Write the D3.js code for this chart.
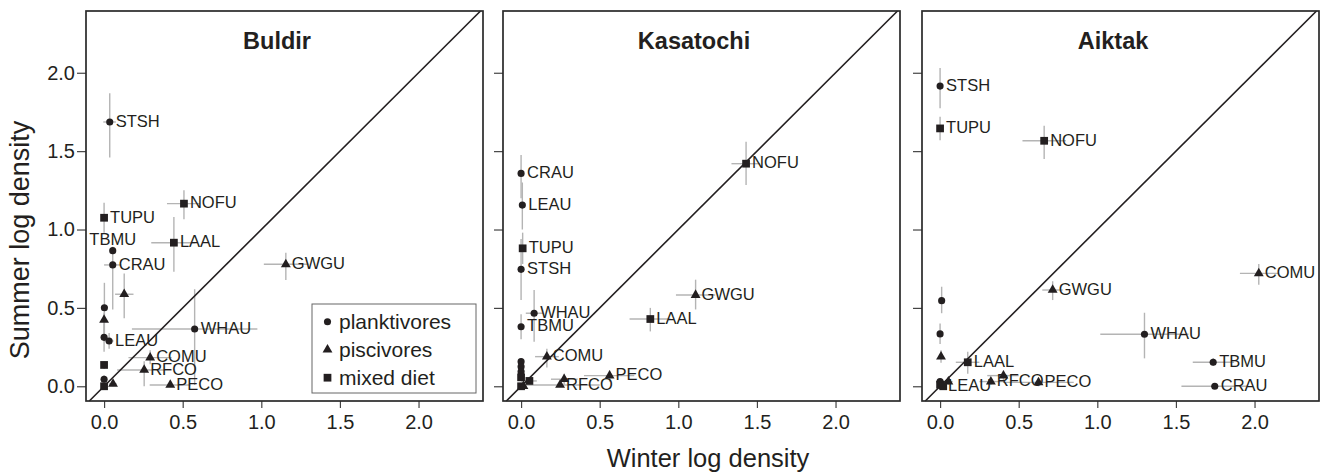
<!DOCTYPE html>
<html>
<head>
<meta charset="utf-8">
<script src="https://cdn.jsdelivr.net/npm/d3@7/dist/d3.min.js"></script>
<style>
  body { margin: 0; background: #fff; }
  svg { font-family: 'Liberation Sans', Arial, Helvetica, sans-serif; }
</style>
</head>
<body>
<script>
// data
const islands = ['Buldir', 'Kasatochi', 'Aiktak'];
const dietTypes = ['planktivores', 'piscivores', 'mixed diet'];
const tickValues = [0, 0.5, 1, 1.5, 2];

// [species, diet, winter, summer, winterLo, winterHi, summerLo, summerHi]
const buldir = [
  ['STSH', 'planktivores', 0.036, 1.686, -0.005, 0.075, 1.46, 1.87],
  ['NOFU', 'mixed diet', 0.508, 1.165, 0.40, 0.61, 1.065, 1.25],
  ['TUPU', 'mixed diet', 0.0, 1.075, 0.0, 0.0, 0.98, 1.17],
  ['LAAL', 'mixed diet', 0.444, 0.916, 0.30, 0.58, 0.73, 1.08],
  ['TBMU', 'planktivores', 0.055, 0.865, 0.04, 0.07, 0.84, 0.89],
  ['CRAU', 'planktivores', 0.055, 0.774, 0.0, 0.11, 0.49, 0.87],
  ['GWGU', 'piscivores', 1.156, 0.778, 1.016, 1.30, 0.678, 0.852],
  ['', 'piscivores', 0.128, 0.587, 0.07, 0.187, 0.434, 0.72],
  ['', 'planktivores', 0.002, 0.501, 0.0, 0.0, 0.34, 0.66],
  ['', 'piscivores', 0.0, 0.423, 0.0, 0.0, 0.33, 0.47],
  ['', 'planktivores', 0.0, 0.312, 0.0, 0.0, 0.22, 0.40],
  ['LEAU', 'planktivores', 0.032, 0.289, 0.0, 0.06, 0.24, 0.34],
  ['WHAU', 'planktivores', 0.576, 0.365, 0.177, 0.975, 0.008, 0.619],
  ['COMU', 'piscivores', 0.293, 0.183, 0.155, 0.43, 0.14, 0.23],
  ['RFCO', 'piscivores', 0.255, 0.104, 0.083, 0.43, 0.0, 0.16],
  ['PECO', 'piscivores', 0.421, 0.008, 0.29, 0.55, 0.0, 0.02],
  ['', 'planktivores', 0.0, 0.045, 0.0, 0.0, 0.02, 0.07],
  ['', 'piscivores', 0.057, 0.015, 0.03, 0.08, 0.0, 0.03],
  ['', 'mixed diet', 0.0, 0.136, 0.0, 0.0, 0.11, 0.16],
  ['', 'mixed diet', 0.0, 0.0, 0.0, 0.0, 0.0, 0.0],
];

const kasatochi = [
  ['CRAU', 'planktivores', 0.0, 1.358, 0.0, 0.0, 1.2, 1.475],
  ['LEAU', 'planktivores', 0.008, 1.156, 0.0, 0.016, 1.0, 1.3],
  ['NOFU', 'mixed diet', 1.431, 1.42, 1.338, 1.52, 1.284, 1.56],
  ['TUPU', 'mixed diet', 0.01, 0.88, 0.0, 0.02, 0.78, 0.98],
  ['STSH', 'planktivores', 0.0, 0.746, 0.0, 0.0, 0.55, 0.94],
  ['WHAU', 'planktivores', 0.083, 0.466, 0.03, 0.14, 0.284, 0.614],
  ['TBMU', 'planktivores', 0.0, 0.38, 0.0, 0.0, 0.3, 0.46],
  ['GWGU', 'piscivores', 1.11, 0.582, 0.985, 1.235, 0.49, 0.68],
  ['LAAL', 'mixed diet', 0.822, 0.429, 0.69, 0.95, 0.35, 0.5],
  ['COMU', 'piscivores', 0.164, 0.189, 0.089, 0.24, 0.12, 0.24],
  ['PECO', 'piscivores', 0.563, 0.068, 0.40, 0.72, 0.03, 0.1],
  ['', 'piscivores', 0.274, 0.045, 0.19, 0.36, 0.01, 0.08],
  ['RFCO', 'piscivores', 0.248, 0.008, 0.0, 0.50, 0.0, 0.02],
  ['', 'planktivores', 0.0, 0.157, 0.0, 0.0, 0.13, 0.18],
  ['', 'planktivores', 0.0, 0.125, 0.0, 0.0, 0.10, 0.15],
  ['', 'planktivores', 0.0, 0.093, 0.0, 0.0, 0.07, 0.12],
  ['', 'mixed diet', 0.0, 0.057, 0.0, 0.0, 0.04, 0.08],
  ['', 'mixed diet', 0.053, 0.034, 0.0, 0.10, 0.01, 0.06],
  ['', 'mixed diet', 0.0, 0.0, 0.0, 0.0, 0.0, 0.0],
  ['', 'piscivores', 0.015, 0.0, 0.0, 0.03, 0.0, 0.0],
];

const aiktak = [
  ['STSH', 'planktivores', 0.0, 1.915, 0.0, 0.0, 1.773, 2.03],
  ['TUPU', 'mixed diet', 0.0, 1.645, 0.0, 0.0, 1.57, 1.72],
  ['NOFU', 'mixed diet', 0.662, 1.566, 0.524, 0.80, 1.45, 1.662],
  ['COMU', 'piscivores', 2.027, 0.72, 1.907, 2.15, 0.647, 0.78],
  ['GWGU', 'piscivores', 0.716, 0.614, 0.65, 0.78, 0.55, 0.67],
  ['', 'planktivores', 0.01, 0.546, 0.0, 0.02, 0.466, 0.635],
  ['', 'planktivores', 0.0, 0.334, 0.0, 0.0, 0.27, 0.40],
  ['', 'piscivores', 0.006, 0.189, 0.0, 0.01, 0.15, 0.23],
  ['LAAL', 'mixed diet', 0.176, 0.153, 0.10, 0.25, 0.08, 0.22],
  ['WHAU', 'planktivores', 1.30, 0.332, 1.019, 1.58, 0.178, 0.469],
  ['TBMU', 'planktivores', 1.737, 0.153, 1.607, 1.87, 0.13, 0.18],
  ['CRAU', 'planktivores', 1.747, 0.0, 1.535, 1.96, 0.0, 0.0],
  ['', 'piscivores', 0.403, 0.068, 0.30, 0.50, 0.04, 0.10],
  ['RFCO', 'piscivores', 0.323, 0.03, 0.25, 0.40, 0.01, 0.05],
  ['PECO', 'piscivores', 0.626, 0.025, 0.40, 0.85, 0.0, 0.05],
  ['LEAU', 'planktivores', 0.012, 0.0, 0.0, 0.03, 0.0, 0.0],
  ['', 'planktivores', 0.0, 0.03, 0.0, 0.0, 0.01, 0.05],
  ['', 'mixed diet', 0.0, 0.01, 0.0, 0.0, 0.0, 0.02],
  ['', 'piscivores', 0.053, 0.03, 0.02, 0.08, 0.01, 0.05],
  ['', 'mixed diet', 0.02, 0.0, 0.0, 0.04, 0.0, 0.0],
];

const islandData = [buldir, kasatochi, aiktak];
const labelsAbove = ['Buldir:TBMU']; // labels drawn centred above the point

// config
const config = {
  width: 1322,
  height: 474,
  panelLeft: [86, 503, 922],
  panelWidth: 397,
  panelTop: 11,
  panelBottom: 401,
  xDomain: [-0.115, 2.41],
  yDomain: [-0.094, 2.394],
  ink: '#231f20',
  errColor: '#b4b4b4',
};

const svg = d3.select('body').append('svg')
  .attr('width', config.width)
  .attr('height', config.height);

// symbol per diet type
const symbolType = d3.scaleOrdinal()
  .domain(dietTypes)
  .range([d3.symbolCircle, d3.symbolTriangle, d3.symbolSquare]);
const symbolSize = d3.scaleOrdinal()
  .domain(dietTypes)
  .range([40, 42, 60]);
const symbolPath = (diet) => d3.symbol().type(symbolType(diet)).size(symbolSize(diet))();

const y = d3.scaleLinear()
  .domain(config.yDomain)
  .range([config.panelBottom, config.panelTop]);

islands.forEach((island, i) => {
  const left = config.panelLeft[i];
  const right = left + config.panelWidth;
  const x = d3.scaleLinear().domain(config.xDomain).range([left, right]);
  const rows = islandData[i];
  const g = svg.append('g');

  // axes
  const yAxis = d3.axisLeft(y).tickValues(tickValues).tickSize(9).tickPadding(2)
    .tickFormat(i === 0 ? d3.format('.1f') : '');
  g.append('g').attr('transform', `translate(${left},0)`).call(yAxis)
    .call((a) => a.select('.domain').remove());
  const xAxis = d3.axisBottom(x).tickValues(tickValues).tickSize(7).tickPadding(7)
    .tickFormat(d3.format('.1f'));
  g.append('g').attr('transform', `translate(0,${config.panelBottom})`).call(xAxis)
    .call((a) => a.select('.domain').remove());
  g.selectAll('.tick line').attr('stroke', '#444').attr('stroke-width', 1.2);
  g.selectAll('.tick text').attr('fill', config.ink).style('font-size', '20px')
    .style('font-family', "'Liberation Sans', Arial, sans-serif");

  // error bars
  g.append('g').selectAll('line.h')
    .data(rows).enter().append('line')
    .attr('x1', (d) => x(d[4])).attr('x2', (d) => x(d[5]))
    .attr('y1', (d) => y(d[3])).attr('y2', (d) => y(d[3]))
    .attr('stroke', config.errColor).attr('stroke-width', 1.4);
  g.append('g').selectAll('line.v')
    .data(rows).enter().append('line')
    .attr('x1', (d) => x(d[2])).attr('x2', (d) => x(d[2]))
    .attr('y1', (d) => y(d[6])).attr('y2', (d) => y(d[7]))
    .attr('stroke', config.errColor).attr('stroke-width', 1.4);

  // 1:1 line
  const lo = Math.max(config.xDomain[0], config.yDomain[0]);
  const hi = Math.min(config.xDomain[1], config.yDomain[1]);
  g.append('line')
    .attr('x1', x(lo)).attr('y1', y(lo))
    .attr('x2', x(hi)).attr('y2', y(hi))
    .attr('stroke', config.ink).attr('stroke-width', 1.6);

  // points
  g.append('g').selectAll('path')
    .data(rows).enter().append('path')
    .attr('d', (d) => symbolPath(d[1]))
    .attr('transform', (d) => `translate(${x(d[2])},${y(d[3])})`)
    .attr('fill', config.ink);

  // species labels
  g.append('g').selectAll('text')
    .data(rows.filter((d) => d[0] !== '')).enter().append('text')
    .each(function (d) {
      const above = labelsAbove.includes(island + ':' + d[0]);
      d3.select(this)
        .attr('x', above ? x(d[2]) : x(d[2]) + 6)
        .attr('y', above ? y(d[3]) - 6 : y(d[3]) + 4.8)
        .attr('text-anchor', above ? 'middle' : 'start');
    })
    .style('font-size', '16.5px')
    .attr('fill', config.ink)
    .text((d) => d[0]);

  // frame
  g.append('rect')
    .attr('x', left).attr('y', config.panelTop)
    .attr('width', config.panelWidth).attr('height', config.panelBottom - config.panelTop)
    .attr('fill', 'none').attr('stroke', '#2a2a2a').attr('stroke-width', 1.7);

  // title
  g.append('text')
    .attr('x', x(1.1)).attr('y', 49)
    .attr('text-anchor', 'middle')
    .style('font-size', '23.5px').style('font-weight', 'bold')
    .attr('fill', config.ink)
    .text(island);

  // legend in the first panel
  if (i === 0) {
    const lw = 164, lh = 89;
    const lx = right - 7 - lw, ly = config.panelBottom - 8 - lh;
    const legend = g.append('g').attr('transform', `translate(${lx},${ly})`);
    legend.append('rect').attr('width', lw).attr('height', lh)
      .attr('fill', '#fff').attr('stroke', '#666').attr('stroke-width', 1);
    const rowY = d3.scalePoint().domain(dietTypes).range([17.7, 73.7]);
    const item = legend.selectAll('g.item').data(dietTypes).enter().append('g')
      .attr('transform', (d) => `translate(0,${rowY(d)})`);
    item.append('path').attr('d', (d) => symbolPath(d))
      .attr('transform', 'translate(15.5,0)').attr('fill', config.ink);
    item.append('text').attr('x', 27).attr('dy', '0.35em')
      .style('font-size', '21px').attr('fill', config.ink)
      .text((d) => d);
  }
});

// axis titles
svg.append('text')
  .attr('transform', 'translate(29,240) rotate(-90)')
  .attr('text-anchor', 'middle')
  .style('font-size', '27px').attr('fill', config.ink)
  .text('Summer log density');
svg.append('text')
  .attr('x', 708).attr('y', 467)
  .attr('text-anchor', 'middle')
  .style('font-size', '25.5px').attr('fill', config.ink)
  .text('Winter log density');
</script>
</body>
</html>
